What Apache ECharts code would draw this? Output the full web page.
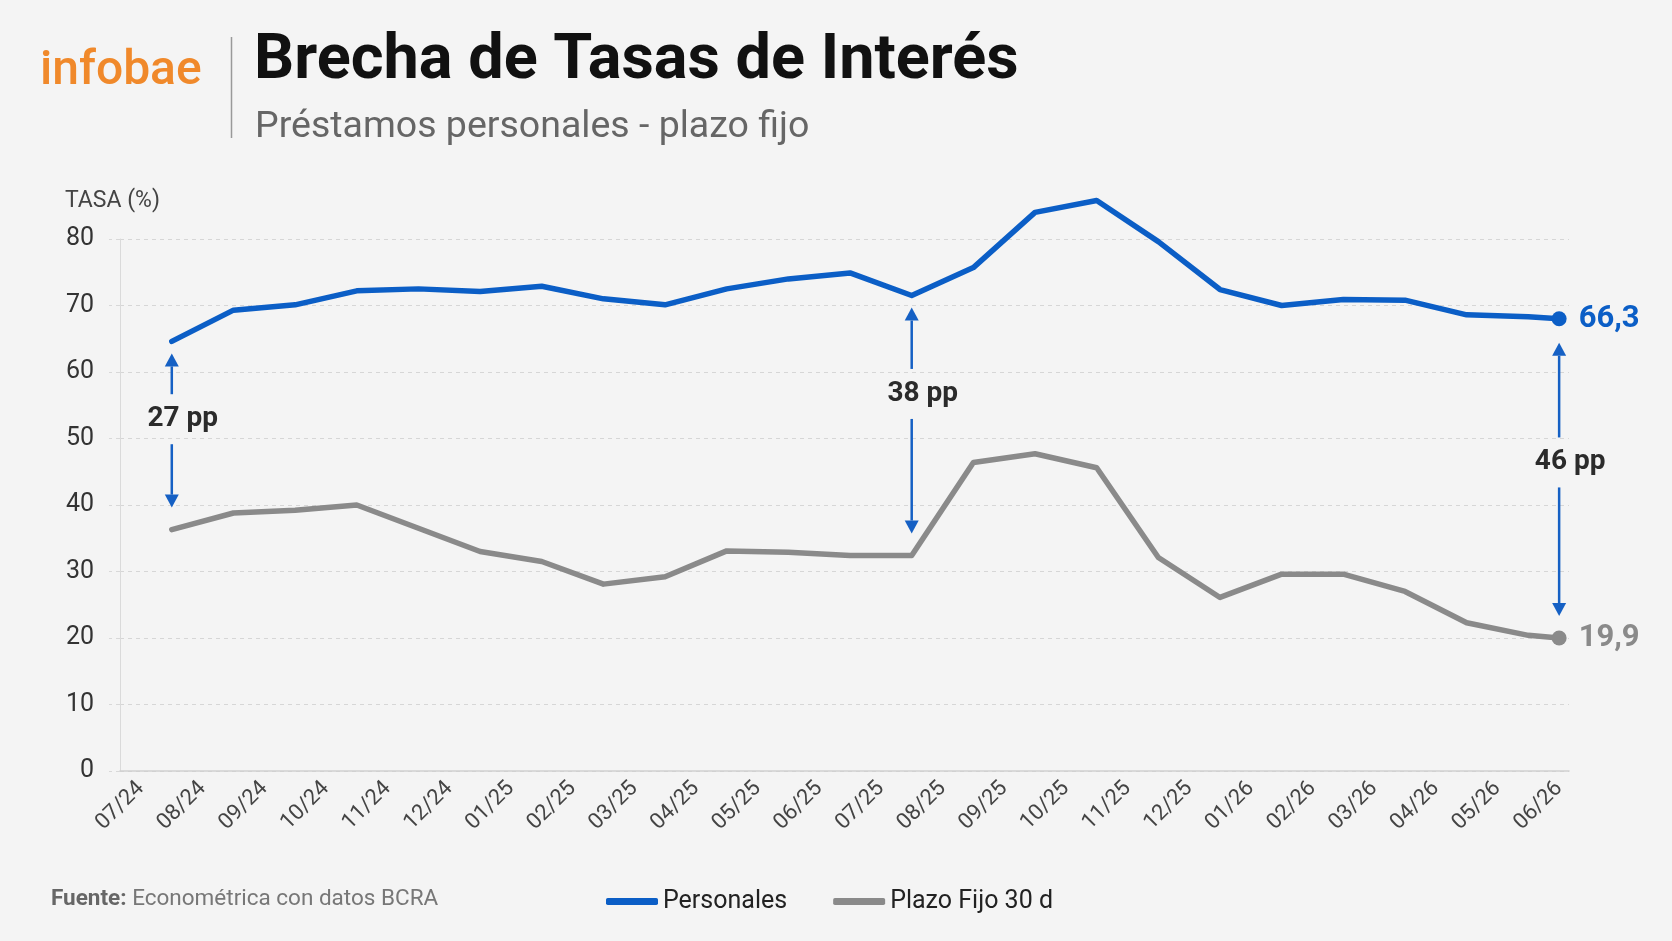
<!DOCTYPE html>
<html>
<head>
<meta charset="utf-8">
<script src="https://cdn.jsdelivr.net/npm/echarts@6/dist/echarts.min.js"></script>
<style>
  html, body { margin: 0; background: #f4f4f4; }
  #chart { width: 1672px; height: 941px; }
</style>
</head>
<body>
<div id="chart"></div>
<script>
const meses = [
  '07/24', '08/24', '09/24', '10/24', '11/24', '12/24', '01/25', '02/25',
  '03/25', '04/25', '05/25', '06/25', '07/25', '08/25', '09/25', '10/25',
  '11/25', '12/25', '01/26', '02/26', '03/26', '04/26', '05/26', '06/26'
]

// ubicacion de cada dato, en meses contados desde 07/24
const posiciones = [
  0.5, 1.5, 2.5, 3.5, 4.5, 5.5, 6.5, 7.5, 8.5, 9.5, 10.5, 11.5,
  12.5, 13.5, 14.5, 15.5, 16.5, 17.5, 18.5, 19.5, 20.5, 21.5, 22.5, 23
]

const personales = [
  64.6, 69.3, 70.1, 72.2, 72.5, 72.1, 72.9, 71.0, 70.1, 72.5, 74.0, 74.9,
  71.5, 75.7, 84.0, 85.8, 79.6, 72.4, 70.0, 70.9, 70.8, 68.6, 68.3, 68.0
]

const plazoFijo = [
  36.3, 38.8, 39.2, 40.0, 36.5, 33.0, 31.5, 28.1, 29.2, 33.1, 32.9, 32.4,
  32.4, 46.4, 47.7, 45.6, 32.1, 26.1, 29.6, 29.6, 27.0, 22.3, 20.4, 20.0
]

const etiquetasFinales = ['66,3', '19,9']

const brechas = [
  { punto: 0, texto: '27 pp', nivel: 52.9 },
  { punto: 12, texto: '38 pp', nivel: 56.7 },
  { punto: 23, texto: '46 pp', nivel: 46.4 }
]

const azul = '#0b5ec6'
const gris = '#8a8a8a'
const fuente = 'Roboto, "Noto Sans", sans-serif'
const ultimo = posiciones.length - 1

const chart = echarts.init(document.getElementById('chart'))

const serieLinea = (nombre, valores, color, etiqueta) => ({
  name: nombre,
  type: 'line',
  clip: false,
  data: valores.map((v, i) => {
    if (i !== ultimo) return [posiciones[i], v]
    return {
      value: [posiciones[i], v],
      symbolSize: 15,
      label: {
        show: true,
        position: 'right',
        distance: 12,
        formatter: etiqueta,
        color: color,
        fontSize: 31,
        fontWeight: 'bold',
        fontFamily: fuente
      }
    }
  }),
  symbol: 'circle',
  symbolSize: 0,
  showAllSymbol: true,
  itemStyle: { color: color },
  lineStyle: { color: color, width: 5.5, cap: 'round', join: 'round' },
  z: 3
})

const option = {
  backgroundColor: '#f4f4f4',
  animation: false,
  grid: { left: 120, right: 103, top: 239, bottom: 170, containLabel: false },
  xAxis: {
    type: 'value',
    min: -0.34,
    max: 23.16,
    splitLine: { show: false },
    axisLine: { lineStyle: { color: '#cfcfcf', width: 1.5 } },
    axisTick: { show: false },
    axisLabel: {
      customValues: meses.map((m, i) => i),
      formatter: (v) => meses[Math.round(v)],
      rotate: 45,
      margin: 14,
      fontSize: 22,
      color: '#444',
      fontFamily: fuente
    }
  },
  yAxis: {
    type: 'value',
    min: 0,
    max: 80,
    interval: 10,
    axisLine: { show: true, onZero: false, lineStyle: { color: '#dadada', width: 1 } },
    axisTick: { show: true, length: 11, lineStyle: { color: '#d8d8d8', type: [4, 4] } },
    splitLine: { lineStyle: { color: '#d6d6d6', type: [4, 4], width: 1 } },
    axisLabel: { margin: 26, fontSize: 25, color: '#333', fontFamily: fuente }
  },
  legend: {
    data: ['Personales', 'Plazo Fijo 30 d'],
    left: 601,
    top: 884,
    icon: 'roundRect',
    itemWidth: 52,
    itemHeight: 7,
    itemGap: 46,
    textStyle: { fontSize: 25, color: '#222', fontFamily: fuente }
  },
  series: [
    serieLinea('Personales', personales, azul, etiquetasFinales[0]),
    serieLinea('Plazo Fijo 30 d', plazoFijo, gris, etiquetasFinales[1]),
    {
      name: 'brechas',
      type: 'custom',
      z: 4,
      clip: false,
      encode: { x: 0, y: 1 },
      data: brechas.map(b => [posiciones[b.punto], personales[b.punto], plazoFijo[b.punto], b.nivel]),
      renderItem: (params, api) => {
        const b = brechas[params.dataIndex]
        const x = api.value(0)
        const arriba = api.coord([x, api.value(1)])
        const abajo = api.coord([x, api.value(2)])
        const medio = api.coord([x, api.value(3)])
        const px = arriba[0]
        const y1 = arriba[1] + (b.punto === ultimo ? 24 : 12)
        const y2 = abajo[1] - 22
        const alto = 13
        const ancho = 7
        const trazo = { stroke: '#1560c4', lineWidth: 2.5 }
        return {
          type: 'group',
          children: [
            { type: 'line', shape: { x1: px, y1: y1 + alto, x2: px, y2: medio[1] - 25 }, style: trazo },
            { type: 'polygon', shape: { points: [[px, y1], [px - ancho, y1 + alto], [px + ancho, y1 + alto]] }, style: { fill: '#1560c4' } },
            { type: 'line', shape: { x1: px, y1: medio[1] + 25, x2: px, y2: y2 - alto }, style: trazo },
            { type: 'polygon', shape: { points: [[px, y2], [px - ancho, y2 - alto], [px + ancho, y2 - alto]] }, style: { fill: '#1560c4' } },
            {
              type: 'text',
              x: px + 11,
              y: medio[1],
              style: {
                text: b.texto,
                align: 'center',
                verticalAlign: 'middle',
                font: 'bold 28px ' + fuente,
                fill: '#2b2b2b'
              }
            }
          ]
        }
      }
    }
  ],
  graphic: [
    {
      type: 'text', x: 40, y: 72,
      style: { text: 'infobae', font: '500 48px ' + fuente, fill: '#f0892b', verticalAlign: 'middle' }
    },
    {
      type: 'line', shape: { x1: 231.5, y1: 37, x2: 231.5, y2: 138 },
      style: { stroke: '#999', lineWidth: 1.5 }
    },
    {
      type: 'text', x: 254, y: 62,
      style: { text: 'Brecha de Tasas de Interés', font: 'bold 63px ' + fuente, fill: '#111', verticalAlign: 'middle' }
    },
    {
      type: 'text', x: 255, y: 128,
      style: { text: 'Préstamos personales - plazo fijo', font: '37.5px ' + fuente, fill: '#666', verticalAlign: 'middle' }
    },
    {
      type: 'text', x: 65, y: 201,
      style: { text: 'TASA (%)', font: '23px ' + fuente, fill: '#444', verticalAlign: 'middle' }
    },
    {
      type: 'text', x: 51, y: 899,
      style: {
        text: '{b|Fuente:} Econométrica con datos BCRA',
        font: '22.5px ' + fuente,
        fill: '#777',
        verticalAlign: 'middle',
        rich: {
          b: { fontWeight: 'bold', fontSize: 22.5, fontFamily: fuente, fill: '#666', color: '#666' }
        }
      }
    }
  ]
}

chart.setOption(option)
</script>
</body>
</html>
